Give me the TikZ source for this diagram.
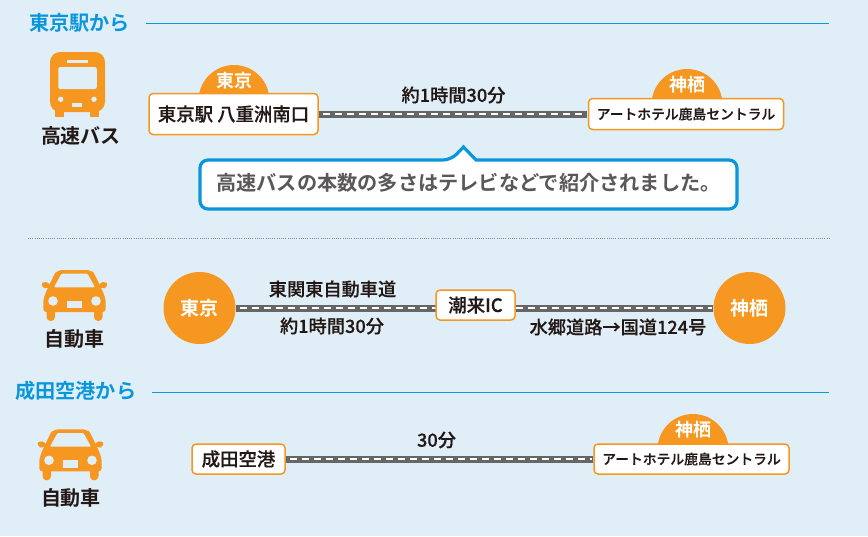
\documentclass[tikz,border=0pt]{standalone}
\usepackage{fontspec}
\setmainfont{Noto Sans CJK JP Medium}[FakeBold=0.3]
\newfontfamily\hvy{Noto Sans CJK JP Bold}
\definecolor{bgc}{HTML}{E0EFF7}
\definecolor{orng}{HTML}{F59720}
\definecolor{blu}{HTML}{0A96DC}
\definecolor{ink}{HTML}{231815}
\definecolor{gry}{HTML}{595757}
\definecolor{road}{HTML}{666666}
\tikzset{
  x=1pt,y=-1pt,
  sect/.style={text=blu,font=\hvy\fontsize{20.2}{21}\selectfont,inner sep=0pt},
  modelabel/.style={text=ink,font=\hvy\fontsize{20}{21}\selectfont,inner sep=0pt},
  lbl/.style={text=ink,font=\fontsize{18.2}{19}\selectfont,inner sep=0pt},
  stopbox/.style={draw=orng,line width=1.5pt,fill=white,rounded corners=4pt,text=ink,align=center,inner sep=0pt,font=\fontsize{18.4}{19}\selectfont},
  hotel/.style={stopbox,minimum width=195pt,minimum height=31pt,font=\fontsize{13.8}{14}\selectfont},
  hump/.style={circle,fill=orng,minimum size=71pt,inner sep=0pt},
  bigdot/.style={circle,fill=orng,minimum size=72pt,inner sep=0pt,text=white,font=\hvy\fontsize{19}{20}\selectfont},
  humptext/.style={text=white,font=\hvy\fontsize{18}{19}\selectfont,inner sep=0pt},
  rule/.style={draw=blu,line width=0.9pt},
  roadbase/.style={draw=road,line width=7pt,shorten >=0.3pt,shorten <=0.3pt},
  roaddash/.style={draw=white,line width=2pt,dash pattern=on 7pt off 5pt,dash phase=9pt,shorten >=1pt,shorten <=1pt},
  pics/car/.style={code={
    \fill[orng,rounded corners=3pt] (-31.2,16) -- (-31.2,4) -- (-29,-3) -- (-20,-22) [rounded corners=5pt] -- (-17,-26) -- (17,-26) -- (20,-22) [rounded corners=3pt] -- (29,-3) -- (31.2,4) -- (31.2,16) -- cycle;
    \fill[orng,rounded corners=2pt] (-33,-13.5) -- (-26,-14) -- (-24,-9) -- (-29,-7.5) -- (-32,-8) -- cycle;
    \fill[orng,rounded corners=2pt] (33,-13.5) -- (26,-14) -- (24,-9) -- (29,-7.5) -- (32,-8) -- cycle;
    \fill[orng,rounded corners=4pt] (-28,12) rectangle (-19.5,25);
    \fill[orng,rounded corners=4pt] (19.5,12) rectangle (28,25);
    \fill[bgc,rounded corners=1pt] (-20.5,-8.7) -- (-13,-22.3) -- (13,-22.3) -- (20.5,-8.7) -- cycle;
    \fill[bgc] (-21.5,5) circle[radius=4.8];
    \fill[bgc] (21.5,5) circle[radius=4.8];
    \fill[bgc] (-7.2,4.7) rectangle (7.2,12.3);
  }},
  pics/bus/.style={code={
    \fill[orng,rounded corners=10pt] (50,52) -- (105,52) -- (105,112) -- (50,112) -- cycle;
    \fill[orng] (55,106) rectangle (64,117);
    \fill[orng] (90,106) rectangle (99,117);
    \fill[bgc,rounded corners=2pt] (58.3,67) rectangle (96.8,89);
    \fill[bgc] (67,59.5) rectangle (88,62.5);
    \fill[bgc] (60.7,99.3) circle[radius=2.7];
    \fill[bgc] (94,99.3) circle[radius=2.7];
    \fill[bgc] (72.3,102.7) rectangle (82.3,107.3);
  }}
}
\begin{document}
\begin{tikzpicture}
\fill[bgc] (0,0) rectangle (868,536);
\useasboundingbox (0,0) rectangle (868,536);
% section 1
\node[sect,anchor=west] (s1) at (29,22.5) {東京駅から};
\coordinate (s1e) at (829,23);
\coordinate (s1b) at (146,23);
\draw[rule] (s1b) -- (s1e);
\pic at (0,0) {bus};
\node[modelabel] (m1) at (81,136) {高速バス};
\begin{scope}
\clip (150,50) rectangle (780,110);
\node[hump] (h1) at (234,100.5) {};
\node[hump] (h2) at (687,104.5) {};
\end{scope}
\node[stopbox,minimum width=169pt,minimum height=41pt] (a1) at (233.5,114) {東京駅 八重洲南口};
\node[hotel] (b1) at (686,114) {アートホテル鹿島セントラル};
\node[humptext] (ht1) at (234,81) {東京};
\node[humptext] (ht2) at (687,85) {神栖};
\draw[roadbase] (a1) -- (b1);
\draw[roaddash] (a1) -- (b1);
\node[lbl] (t1) at (453.5,95) {約1時間30分};
% callout
\draw[draw=blu,line width=3.2pt,fill=white,rounded corners=8pt]
  (200,160) -- (451,160) [sharp corners] -- (463.5,147) -- (476,160) [rounded corners=8pt] -- (737,160) -- (737,209) -- (200,209) -- cycle;
\node[text=gry,font=\hvy\fontsize{20.2}{21}\selectfont,inner sep=0pt,anchor=west] (c1) at (216,183) {高速バスの本数の多さはテレビなどで紹介されました。};
% divider
\coordinate (d1) at (28,238.5);
\coordinate (d2) at (829,238.5);
\draw[draw=gry!70,line width=0.6pt,dash pattern=on 1pt off 1.2pt] (d1) -- (d2);
% car row 1
\pic at (74.5,296) {car};
\node[modelabel] (m2) at (75,339) {自動車};
\node[bigdot] (k1) at (199.5,308) {東京};
\node[bigdot] (k2) at (749.5,308) {神栖};
\draw[roadbase] (k1) -- (k2);
\draw[roaddash] (k1) -- (k2);
\node[stopbox,minimum width=79pt,minimum height=30pt] (ic) at (475.5,305) {潮来IC};
\node[lbl] (t2) at (332.5,289) {東関東自動車道};
\node[lbl] (t3) at (332,326) {約1時間30分};
\node[lbl] (t4) at (618,327) {水郷道路→国道124号};
% section 2
\node[sect,anchor=west] (s2) at (15,390.5) {成田空港から};
\coordinate (s2b) at (152,392);
\coordinate (s2e) at (829,392);
\draw[rule] (s2b) -- (s2e);
\pic at (70.5,455.3) {car};
\node[modelabel] (m3) at (71,498) {自動車};
\begin{scope}
\clip (600,400) rectangle (780,460);
\node[hump] (h3) at (693,449.5) {};
\end{scope}
\node[stopbox,minimum width=93pt,minimum height=30pt] (n1) at (238.5,459) {成田空港};
\node[hotel,minimum height=30pt] (b3) at (691.5,459) {アートホテル鹿島セントラル};
\node[humptext] (ht3) at (693,430) {神栖};
\draw[roadbase] (n1) -- (b3);
\draw[roaddash] (n1) -- (b3);
\node[lbl] (t5) at (436.5,440) {30分};
\end{tikzpicture}
\end{document}
